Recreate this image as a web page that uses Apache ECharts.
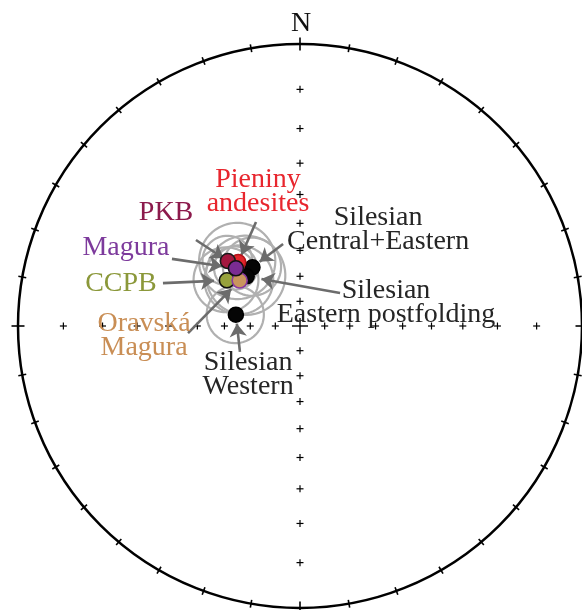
<!DOCTYPE html>
<html>
<head>
<meta charset="utf-8">
<script src="https://cdn.jsdelivr.net/npm/echarts@6/dist/echarts.min.js"></script>
<style>
  html, body { margin: 0; padding: 0; background: #ffffff; }
  #chart { width: 582px; height: 610px; }
</style>
</head>
<body>
<div id="chart"></div>
<script>
// Mean palaeomagnetic directions, lower hemisphere, equal-angle (Wulff) stereonet
const sites = ['Silesian Central+Eastern', 'Silesian Eastern postfolding', 'Silesian Western',
               'Pieniny andesites', 'PKB', 'CCPB', 'Oravská Magura', 'Magura'];
const declinations = [321, 313, 280, 316, 312, 302, 307, 312];
const inclinations = [60, 61, 64, 55, 52, 56, 60, 56];
const alpha95 = [11, 15, 11, 14, 9, 12, 13, 8];

// Net furniture: primitive ticks every 10 deg, axis crosses every 10 deg of inclination
const tickAngles = [0, 10, 20, 30, 40, 50, 60, 70, 80, 90, 100, 110, 120, 130, 140, 150, 160, 170,
                    180, 190, 200, 210, 220, 230, 240, 250, 260, 270, 280, 290, 300, 310, 320, 330, 340, 350];
const crossInclinations = [10, 20, 30, 40, 50, 60, 70, 80];
const crossAzimuths = [0, 90, 180, 270];

// Label text for each site (same order as sites)
const labelTexts = ['Silesian\nCentral+Eastern', 'Silesian\nEastern postfolding', 'Silesian\nWestern',
                    'Pieniny\nandesites', 'PKB', 'CCPB', 'Oravská\nMagura', 'Magura'];

// ---- styling / layout ----
const style = {
  'Silesian Central+Eastern':     { fill: '#050505', border: '#000000', text: '#262626' },
  'Silesian Eastern postfolding': { fill: '#050505', border: '#000000', text: '#262626' },
  'Silesian Western':             { fill: '#050505', border: '#000000', text: '#262626' },
  'Pieniny andesites':            { fill: '#e3242b', border: '#b3131a', text: '#e8262e' },
  'PKB':                          { fill: '#a3173f', border: '#1a1a1a', text: '#8c1a4c' },
  'CCPB':                         { fill: '#97a23c', border: '#111111', text: '#8b983a' },
  'Oravská Magura':               { fill: '#c9955d', border: '#8a3aa0', text: '#c98e55' },
  'Magura':                       { fill: '#7b2c93', border: '#111111', text: '#7d3a9c' }
};
// label block centres, arrow tails (net units) and arrow stand-off (px)
const annot = {
  'Silesian Central+Eastern':     { label: [0.277, 0.342],  tail: [-0.060, 0.291], gap: 9 },
  'Silesian Eastern postfolding': { label: [0.305, 0.083],  tail: [0.142, 0.117],  gap: 15 },
  'Silesian Western':             { label: [-0.184, -0.172], tail: [-0.213, -0.092], gap: 9 },
  'Pieniny andesites':            { label: [-0.149, 0.477], tail: [-0.156, 0.369], gap: 8 },
  'PKB':                          { label: [-0.475, 0.402], tail: [-0.369, 0.305], gap: 5 },
  'CCPB':                         { label: [-0.635, 0.151], tail: [-0.486, 0.152], gap: 13 },
  'Oravská Magura':               { label: [-0.553, -0.034], tail: [-0.397, -0.025], gap: 12 },
  'Magura':                       { label: [-0.617, 0.278], tail: [-0.454, 0.238], gap: 14 }
};
const NET_R_PX = 282;

const rad = d => d * Math.PI / 180;
const deg = r => r * 180 / Math.PI;

// Wulff projection: declination/inclination -> net x (east), y (north)
function wulff(dec, inc) {
  const r = Math.tan(rad(90 - inc) / 2);
  return [r * Math.sin(rad(dec)), r * Math.cos(rad(dec))];
}

// Cone of confidence traced around a mean direction
function smallCircle(dec, inc, a) {
  const D = rad(dec), I = rad(inc), A = rad(a);
  const m = [Math.cos(I) * Math.cos(D), Math.cos(I) * Math.sin(D), Math.sin(I)];
  const u = [-Math.sin(I) * Math.cos(D), -Math.sin(I) * Math.sin(D), Math.cos(I)];
  const v = [-Math.sin(D), Math.cos(D), 0];
  const pts = [];
  for (let t = 0; t <= 360; t += 3) {
    const ct = Math.cos(rad(t)), st = Math.sin(rad(t));
    const p = [0, 1, 2].map(k => Math.cos(A) * m[k] + Math.sin(A) * (ct * u[k] + st * v[k]));
    const pi = deg(Math.asin(p[2]));
    const pd = deg(Math.atan2(p[1], p[0]));
    pts.push(wulff(pd, pi));
  }
  return pts;
}

const means = sites.map((s, i) => wulff(declinations[i], inclinations[i]));

const series = [];

// primitive circle
series.push({
  type: 'custom', coordinateSystem: 'cartesian2d', clip: false, silent: true, z: 1,
  data: [[0, 0]],
  renderItem: (params, api) => {
    const c = api.coord([0, 0]);
    const R = api.coord([1, 0])[0] - c[0];
    return { type: 'circle', shape: { cx: c[0], cy: c[1], r: R },
             style: { fill: null, stroke: '#000', lineWidth: 2.5 } };
  }
});

// primitive ticks
series.push({
  type: 'custom', coordinateSystem: 'cartesian2d', clip: false, silent: true, z: 2,
  data: tickAngles.map(a => [Math.sin(rad(a)), Math.cos(rad(a)), a]),
  renderItem: (params, api) => {
    const p = api.coord([api.value(0), api.value(1)]);
    const a = rad(api.value(2));
    const h = api.value(2) % 90 === 0 ? 6.5 : 4;
    const dx = Math.sin(a) * h, dy = -Math.cos(a) * h;
    return { type: 'line', shape: { x1: p[0] - dx, y1: p[1] - dy, x2: p[0] + dx, y2: p[1] + dy },
             style: { stroke: '#000', lineWidth: 1.6 } };
  }
});

// inclination crosses on N-S and E-W axes, plus centre
const crossData = [[0, 0, 1]];
crossAzimuths.forEach(az => crossInclinations.forEach(inc => {
  const p = wulff(az, inc);
  crossData.push([p[0], p[1], 0]);
}));
series.push({
  type: 'custom', coordinateSystem: 'cartesian2d', clip: false, silent: true, z: 2,
  data: crossData,
  renderItem: (params, api) => {
    const p = api.coord([api.value(0), api.value(1)]);
    const h = api.value(2) ? 8 : 3.5;
    const lw = api.value(2) ? 1.4 : 1.2;
    return { type: 'group', children: [
      { type: 'line', shape: { x1: p[0] - h, y1: p[1], x2: p[0] + h, y2: p[1] }, style: { stroke: '#000', lineWidth: lw } },
      { type: 'line', shape: { x1: p[0], y1: p[1] - h, x2: p[0], y2: p[1] + h }, style: { stroke: '#000', lineWidth: lw } }
    ] };
  }
});

// cones of confidence
sites.forEach((s, i) => {
  series.push({
    type: 'line', clip: false, silent: true, z: 3, showSymbol: false, symbol: 'none',
    data: smallCircle(declinations[i], inclinations[i], alpha95[i]),
    lineStyle: { color: '#b0b0b0', width: 2.2, opacity: 1 }
  });
});

// pointer arrows
series.push({
  type: 'lines', coordinateSystem: 'cartesian2d', clip: false, silent: true, z: 5,
  symbol: ['none', 'arrow'], symbolSize: 13,
  lineStyle: { color: '#6c6c6c', width: 2.6, opacity: 1 },
  data: sites.map((s, i) => {
    const t = annot[s].tail, m = means[i];
    const dx = m[0] - t[0], dy = m[1] - t[1];
    const len = Math.hypot(dx, dy);
    const g = annot[s].gap / NET_R_PX;
    return { coords: [t, [m[0] - dx / len * g, m[1] - dy / len * g]] };
  })
});

// mean directions
series.push({
  type: 'scatter', clip: false, z: 6, symbol: 'circle', symbolSize: 15,
  data: sites.map((s, i) => ({
    value: means[i],
    itemStyle: { color: style[s].fill, borderColor: style[s].border, borderWidth: 1.6, opacity: 1 }
  }))
});

// site labels and north mark
const labelData = sites.map((s, i) => ({
  value: annot[s].label,
  label: { formatter: labelTexts[i], color: style[s].text }
}));
labelData.push({ value: [0.004, 1.073], label: { formatter: 'N', color: '#111111' } });
series.push({
  type: 'scatter', clip: false, z: 7, symbolSize: 0, silent: true,
  itemStyle: { opacity: 1 },
  label: { show: true, position: 'inside', fontFamily: 'Liberation Serif', fontSize: 28,
           lineHeight: 24, align: 'center', verticalAlign: 'middle', opacity: 1 },
  data: labelData
});

const chart = echarts.init(document.getElementById('chart'), null, { renderer: 'canvas' });
chart.setOption({
  backgroundColor: '#ffffff',
  animation: false,
  grid: { left: 18, top: 44, width: 564, height: 564, containLabel: false },
  xAxis: { type: 'value', min: -1, max: 1, show: false },
  yAxis: { type: 'value', min: -1, max: 1, show: false },
  series: series
});
</script>
</body>
</html>
